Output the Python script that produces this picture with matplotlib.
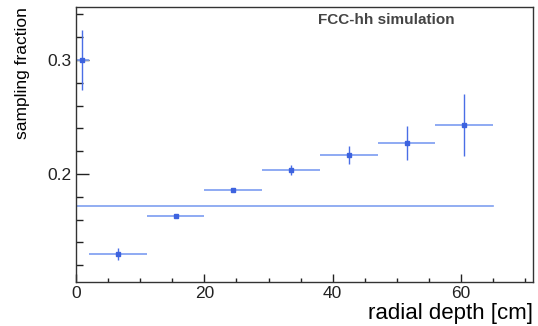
import numpy as np
import matplotlib
matplotlib.use("Agg")
import matplotlib.pyplot as plt
from matplotlib.ticker import MultipleLocator

# radial layer centres [cm], half widths and sampling fraction
depth = [1.0, 6.5, 15.5, 24.5, 33.5, 42.5, 51.5, 60.5]
depth_err = [1.0, 4.5, 4.5, 4.5, 4.5, 4.5, 4.5, 4.5]
sf = [0.300, 0.130, 0.163, 0.186, 0.2035, 0.2164, 0.227, 0.2432]
sf_err = [0.026, 0.005, 0.002, 0.002, 0.004, 0.008, 0.015, 0.027]
sf_mean = 0.1722
mean_range = [0.0, 65.0]

plt.rcParams["font.family"] = ["Liberation Sans", "DejaVu Sans"]

fig = plt.figure(figsize=(5.38, 3.26), dpi=100)
ax = fig.add_axes([0.1413, 0.135, 0.8494, 0.842])

# mean line
ax.plot(mean_range, [sf_mean, sf_mean], color="#7f9ff0", lw=1.2, zorder=1)

# horizontal (bin width) bars lighter, vertical bars darker
ax.errorbar(depth, sf, xerr=depth_err, fmt="none", ecolor="#86a4f2",
            elinewidth=1.3, capsize=0, zorder=2)
ax.errorbar(depth, sf, yerr=sf_err, fmt="none", ecolor="#4a6ee6",
            elinewidth=1.0, capsize=0, zorder=3)
ax.plot(depth, sf, "s", color="#3d63df", ms=3.5, zorder=4)

ax.set_xlim(0, 71.2)
ax.set_ylim(0.1053, 0.346)

ax.xaxis.set_major_locator(MultipleLocator(20))
ax.xaxis.set_minor_locator(MultipleLocator(5))
ax.yaxis.set_major_locator(MultipleLocator(0.1))
ax.yaxis.set_minor_locator(MultipleLocator(0.02))
ax.yaxis.set_major_formatter(matplotlib.ticker.FormatStrFormatter("%.1f"))

ax.tick_params(axis="both", which="both", direction="in", colors="#222222",
               labelsize=12.5, width=1.0)
ax.tick_params(axis="x", which="major", length=6, pad=3)
ax.tick_params(axis="x", which="minor", length=3)
ax.tick_params(axis="y", which="major", length=9.4, pad=3)
ax.tick_params(axis="y", which="minor", length=5)

for s in ax.spines.values():
    s.set_linewidth(1.0)
    s.set_color("#333333")

ax.set_xlabel("radial depth [cm]", fontsize=16, ha="right", x=1.0, labelpad=0)
ax.set_ylabel("sampling fraction", fontsize=12.5, ha="right", y=1.0)
ax.yaxis.set_label_coords(-0.1, 1.0)
ax.xaxis.set_label_coords(1.0, -0.076)

ax.text(0.68, 0.955, "FCC-hh simulation", transform=ax.transAxes,
        fontsize=11, fontweight="bold", color="#444444", ha="center", va="center")

fig.savefig("out.png", dpi=100)
